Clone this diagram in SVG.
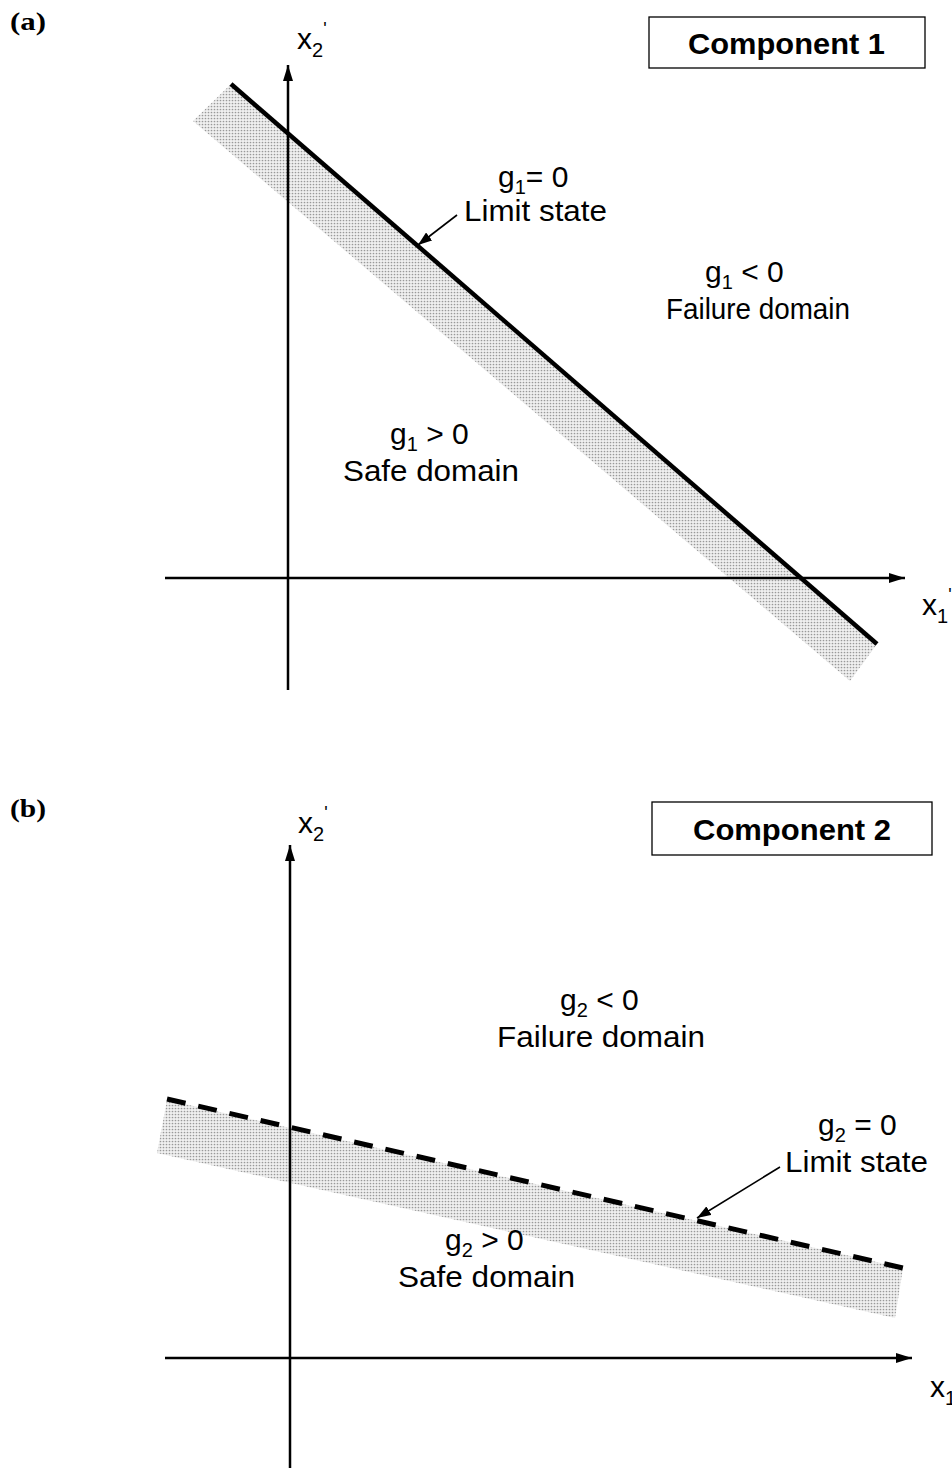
<svg xmlns="http://www.w3.org/2000/svg" width="952" height="1471" viewBox="0 0 952 1471">
<style>
  .lbl { font-family: "Liberation Sans", Arial, sans-serif; font-size: 30px; fill: #000; }
  .sub { font-size: 20px; }
  .sup { font-size: 18px; }
  .panel { font-family: "Liberation Serif", "Times New Roman", serif; font-size: 25px; font-weight: bold; fill: #000; }
  .title { font-family: "Liberation Sans", Arial, sans-serif; font-size: 30px; font-weight: bold; fill: #000; }
  .axis { stroke: #000; stroke-width: 2.5; fill: none; }
  .ptr { stroke: #000; stroke-width: 1.6; fill: none; }
  .box { fill: #fff; stroke: #000; stroke-width: 1.3; }
  .band { fill: url(#dots); stroke: none; }
</style>
<defs>
  <pattern id="dots" width="3" height="3" patternUnits="userSpaceOnUse">
    <rect width="3" height="3" fill="#f0f0f0"/>
    <circle cx="1.5" cy="1.5" r="0.85" fill="#999"/>
  </pattern>
  <marker id="axArrow" viewBox="0 0 16 10" refX="16" refY="5" markerWidth="16" markerHeight="10" markerUnits="userSpaceOnUse" orient="auto">
    <path d="M0,0 L16,5 L0,10 Z" fill="#000"/>
  </marker>
  <marker id="ptrArrow" viewBox="0 0 14 10" refX="14" refY="5" markerWidth="14" markerHeight="10" markerUnits="userSpaceOnUse" orient="auto">
    <path d="M0,0 L14,5 L0,10 Z" fill="#000"/>
  </marker>
</defs>
<rect width="952" height="1471" fill="#fff"/>

<!-- Panel (a) -->
<g id="panel-a">
  <text class="panel" x="10" y="30" textLength="36" lengthAdjust="spacingAndGlyphs">(a)</text>
  <g id="band-a"><polygon class="band" points="231,84 877,644 850,681 193,121"/></g>
  <g id="connectors-a">
    <line class="axis" x1="288" y1="690" x2="288" y2="65" marker-end="url(#axArrow)"/>
    <line class="axis" x1="165" y1="578" x2="905" y2="578" marker-end="url(#axArrow)"/>
    <line id="limit-a" x1="231" y1="84" x2="877" y2="644" stroke="#000" stroke-width="4.5"/>
    <line class="ptr" x1="457" y1="215" x2="418" y2="245" marker-end="url(#ptrArrow)"/>
  </g>
  <g id="x2-label-a"><text class="lbl" x="297" y="49">x<tspan class="sub" dy="8">2</tspan><tspan class="sup" dy="-22">'</tspan></text></g>
  <g id="x1-label-a"><text class="lbl" x="922" y="615">x<tspan class="sub" dy="8">1</tspan><tspan class="sup" dy="-22">'</tspan></text></g>
  <g id="component1"><rect class="box" x="649" y="17" width="276" height="51"/><text class="title" x="688" y="54" textLength="197" lengthAdjust="spacingAndGlyphs">Component 1</text></g>
  <g id="limit-label-a">
    <text class="lbl" x="498" y="187">g<tspan class="sub" dy="7">1</tspan><tspan dy="-7">= 0</tspan></text>
    <text class="lbl" x="464" y="221" textLength="143" lengthAdjust="spacingAndGlyphs">Limit state</text>
  </g>
  <g id="failure-a">
    <text class="lbl" x="705" y="282">g<tspan class="sub" dy="7">1</tspan><tspan dy="-7"> &lt; 0</tspan></text>
    <text class="lbl" x="666" y="319" textLength="184" lengthAdjust="spacingAndGlyphs">Failure domain</text>
  </g>
  <g id="safe-a">
    <text class="lbl" x="390" y="444">g<tspan class="sub" dy="7">1</tspan><tspan dy="-7"> &gt; 0</tspan></text>
    <text class="lbl" x="343" y="481" textLength="176" lengthAdjust="spacingAndGlyphs">Safe domain</text>
  </g>
</g>

<!-- Panel (b) -->
<g id="panel-b">
  <text class="panel" x="10" y="817" textLength="36" lengthAdjust="spacingAndGlyphs">(b)</text>
  <g id="band-b"><polygon class="band" points="167,1100 903,1268 895,1318 157,1153"/></g>
  <g id="connectors-b">
    <line class="axis" x1="290" y1="1468" x2="290" y2="845" marker-end="url(#axArrow)"/>
    <line class="axis" x1="165" y1="1358" x2="912" y2="1358" marker-end="url(#axArrow)"/>
    <line id="limit-b" x1="167" y1="1099" x2="903" y2="1268" stroke="#000" stroke-width="5" stroke-dasharray="19 13"/>
    <line class="ptr" x1="780" y1="1167" x2="697" y2="1218" marker-end="url(#ptrArrow)"/>
  </g>
  <g id="x2-label-b"><text class="lbl" x="298" y="833">x<tspan class="sub" dy="8">2</tspan><tspan class="sup" dy="-22">'</tspan></text></g>
  <g id="x1-label-b"><text class="lbl" x="930" y="1397">x<tspan class="sub" dy="8">1</tspan><tspan class="sup" dy="-22">'</tspan></text></g>
  <g id="component2"><rect class="box" x="652" y="802" width="280" height="53"/><text class="title" x="693" y="840" textLength="198" lengthAdjust="spacingAndGlyphs">Component 2</text></g>
  <g id="failure-b">
    <text class="lbl" x="560" y="1010">g<tspan class="sub" dy="7">2</tspan><tspan dy="-7"> &lt; 0</tspan></text>
    <text class="lbl" x="497" y="1047" textLength="208" lengthAdjust="spacingAndGlyphs">Failure domain</text>
  </g>
  <g id="limit-label-b">
    <text class="lbl" x="818" y="1135">g<tspan class="sub" dy="7">2</tspan><tspan dy="-7"> = 0</tspan></text>
    <text class="lbl" x="785" y="1172" textLength="143" lengthAdjust="spacingAndGlyphs">Limit state</text>
  </g>
  <g id="safe-b">
    <text class="lbl" x="445" y="1250">g<tspan class="sub" dy="7">2</tspan><tspan dy="-7"> &gt; 0</tspan></text>
    <text class="lbl" x="398" y="1287" textLength="177" lengthAdjust="spacingAndGlyphs">Safe domain</text>
  </g>
</g>
</svg>
